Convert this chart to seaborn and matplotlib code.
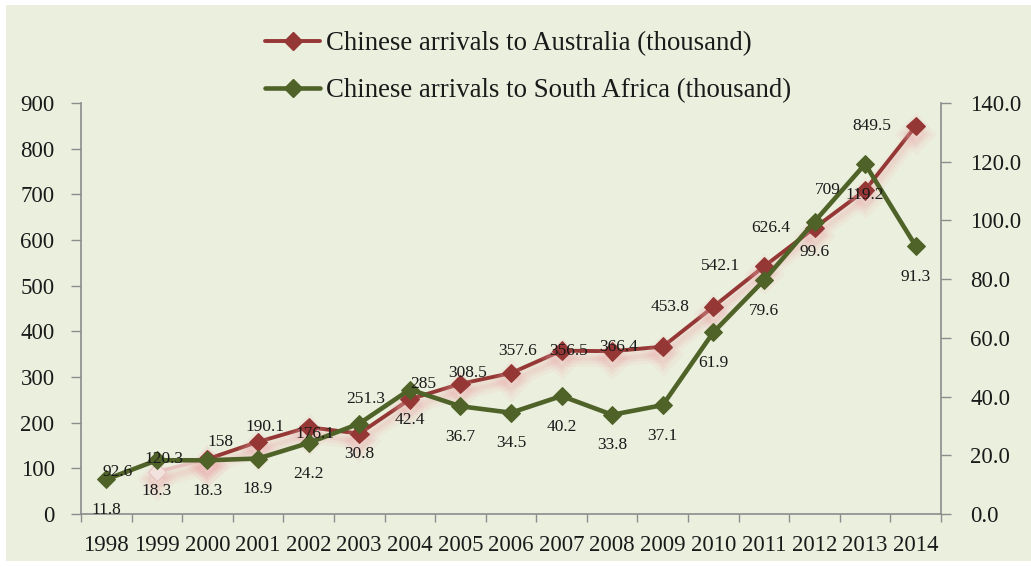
import numpy as np
import pandas as pd
import matplotlib
matplotlib.use("Agg")
import matplotlib.pyplot as plt
import matplotlib.patheffects as pe
from matplotlib.patches import Rectangle
from matplotlib.lines import Line2D
from matplotlib.ticker import FixedLocator, NullFormatter, FixedFormatter
import seaborn as sns

# Arrivals data (thousand)
years = [1998, 1999, 2000, 2001, 2002, 2003, 2004, 2005, 2006, 2007,
         2008, 2009, 2010, 2011, 2012, 2013, 2014]
australia = [np.nan, 92.6, 120.3, 158, 190.1, 176.1, 251.3, 285, 308.5,
             357.6, 356.5, 366.4, 453.8, 542.1, 626.4, 709, 849.5]
south_africa = [11.8, 18.3, 18.3, 18.9, 24.2, 30.8, 42.4, 36.7, 34.5,
                40.2, 33.8, 37.1, 61.9, 79.6, 99.6, 119.2, 91.3]
left_ticks = [0, 100, 200, 300, 400, 500, 600, 700, 800, 900]
right_ticks = [0, 20, 40, 60, 80, 100, 120, 140]

label_au = "Chinese arrivals to Australia (thousand)"
label_sa = "Chinese arrivals to South Africa (thousand)"

RED = "#953735"
GREEN = "#4F6228"
BG = "#EBEFDE"
AXIS = "#8C8C8C"
TEXT = "#1A1A1A"

sns.set_theme(style="white")
plt.rcParams["font.family"] = ["Liberation Serif", "DejaVu Serif"]

df = pd.DataFrame({"pos": np.arange(len(years)), "year": years,
                   "au": australia, "sa": south_africa})

fig = plt.figure(figsize=(10.31, 5.67), dpi=100)
fig.patch.set_facecolor("white")
fig.patches.append(Rectangle((6 / 1031, 6 / 567), 1 - 6 / 1031, 1 - 11 / 567,
                             transform=fig.transFigure, facecolor=BG,
                             edgecolor="none", zorder=-10))

ax = fig.add_axes([81 / 1031, 1 - 514 / 567, (941 - 81) / 1031, (514 - 103) / 567])
ax.set_facecolor("none")
ax2 = ax.twinx()
ax2.set_facecolor("none")

# soft pink glow beneath the Australia line
glow = [
    pe.SimpleLineShadow(offset=(0, -5.5), shadow_color="#f2bcbc", alpha=0.12, linewidth=12),
    pe.SimpleLineShadow(offset=(0, -5.5), shadow_color="#eeb0b0", alpha=0.16, linewidth=7),
    pe.SimpleLineShadow(offset=(0, -5.5), shadow_color="#eaa8a8", alpha=0.16, linewidth=3),
    pe.Normal(),
]

au_main = df[df["pos"] >= 2]
au_first = df[(df["pos"] >= 1) & (df["pos"] <= 2)]

MS = 9.5
sns.lineplot(data=au_first, x="pos", y="au", ax=ax, color="#e6c3c0",
             linewidth=2.6, marker="D", markersize=MS, markerfacecolor="#f1e2de",
             markeredgecolor="#e6c3c0", path_effects=glow, legend=False, zorder=2)
sns.lineplot(data=au_main, x="pos", y="au", ax=ax, color=RED,
             linewidth=2.8, marker="D", markersize=MS, markeredgecolor=RED,
             path_effects=glow, legend=False, zorder=3)
sns.lineplot(data=df, x="pos", y="sa", ax=ax2, color=GREEN,
             linewidth=3.3, marker="D", markersize=MS, markeredgecolor=GREEN,
             legend=False, zorder=4)

# axis ranges and ticks
ax.set_xlim(-0.5, len(years) - 0.5)
ax.set_ylim(0, 900)
ax2.set_ylim(0, 140)
ax.set_xlabel("")
ax.set_ylabel("")
ax2.set_ylabel("")

ax.xaxis.set_major_locator(FixedLocator(np.arange(-0.5, len(years), 1.0)))
ax.xaxis.set_major_formatter(NullFormatter())
ax.xaxis.set_minor_locator(FixedLocator(np.arange(len(years))))
ax.xaxis.set_minor_formatter(FixedFormatter([str(y) for y in years]))
ax.tick_params(axis="x", which="major", direction="out", length=6, width=1, color=AXIS, bottom=True)
ax.tick_params(axis="x", which="minor", length=0, pad=15, labelsize=16.5, labelcolor=TEXT)

ax.set_yticks(left_ticks)
ax.set_yticklabels([str(v) for v in left_ticks])
ax.tick_params(axis="y", direction="out", length=7, width=1, color=AXIS, pad=12,
               labelsize=16.5, labelcolor=TEXT, left=True)
ax2.set_yticks(right_ticks)
ax2.set_yticklabels([f"{v:.1f}" for v in right_ticks])
ax2.tick_params(axis="y", direction="out", length=7, width=1, color=AXIS, pad=14,
                labelsize=16.5, labelcolor=TEXT, right=True)

for a in (ax, ax2):
    a.grid(False)
    a.spines["top"].set_visible(False)
    for side in ("left", "right", "bottom"):
        a.spines[side].set_color(AXIS)
        a.spines[side].set_linewidth(1.2)
ax.spines["right"].set_visible(False)
ax2.spines["left"].set_visible(False)
ax2.spines["bottom"].set_visible(False)

# value labels
for p, v in zip(df["pos"], df["au"]):
    if np.isnan(v):
        continue
    ax2.annotate(f"{v:g}", xy=(p, v), xycoords=ax.transData,
                 xytext=(-17.5, 0), textcoords="offset points",
                 ha="right", va="center", fontsize=12.5, color=TEXT, zorder=6)
for p, v in zip(df["pos"], df["sa"]):
    ax2.annotate(f"{v:g}", xy=(p, v), xycoords="data",
                 xytext=(0, -22), textcoords="offset points",
                 ha="center", va="center", fontsize=12.5, color=TEXT, zorder=6)

# legend
handles = [
    Line2D([], [], color=RED, linewidth=2.8, marker="D", markersize=MS),
    Line2D([], [], color=GREEN, linewidth=3.3, marker="D", markersize=MS),
]
fig.legend(handles, [label_au, label_sa], loc="center",
           bbox_to_anchor=(528 / 1031, 1 - 67 / 567), frameon=False,
           fontsize=19.3, handlelength=2.05, handletextpad=0.2,
           labelspacing=0.82, labelcolor=TEXT)

fig.savefig("out.png", dpi=100, facecolor=fig.get_facecolor())
